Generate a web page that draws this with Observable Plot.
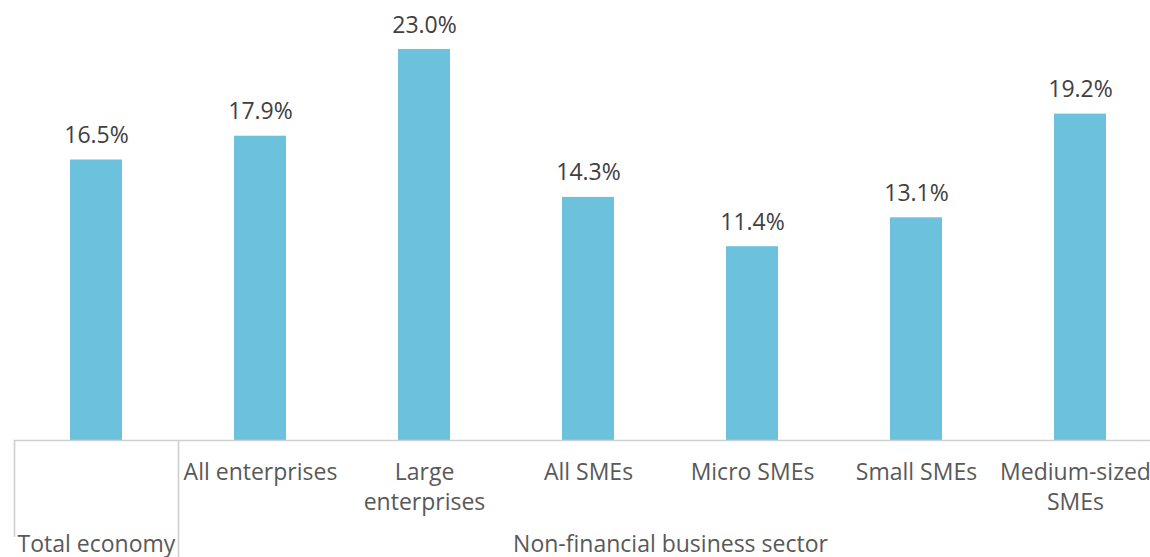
<!DOCTYPE html>
<html>
<head>
<meta charset="utf-8">
<script src="https://cdn.jsdelivr.net/npm/d3@7"></script>
<script src="https://cdn.jsdelivr.net/npm/@observablehq/plot@0.6"></script>
<style>
  html, body { margin: 0; padding: 0; background: #fff; overflow: hidden; }
  #chart svg { display: block; }
</style>
</head>
<body>
<div id="chart"></div>
<script>
const categories = ["Total economy", "All enterprises", "Large enterprises", "All SMEs", "Micro SMEs", "Small SMEs", "Medium-sized SMEs"];
const values = [16.5, 17.9, 23.0, 14.3, 11.4, 13.1, 19.2];
const tickLabels = ["", "All enterprises", "Large\nenterprises", "All SMEs", "Micro SMEs", "Small SMEs", "Medium-sized\nSMEs"];
const groupLabels = ["Total economy", "Non-financial business sector"];

const data = categories.map((c, i) => ({category: c, value: values[i]}));
const labelOf = new Map(categories.map((c, i) => [c, tickLabels[i]]));
const lastCategory = categories[categories.length - 1];

const lineColor = "#cfcfcf";
const textColor = "#595959";
const axisText = {tickSize: 0, tickPadding: 18, tickFormat: d => labelOf.get(d), fontSize: 23, lineHeight: 1.3, fill: textColor, label: null};

const chart = Plot.plot({
  width: 1150,
  height: 557,
  marginTop: 15,
  marginBottom: 117,
  marginLeft: 14,
  marginRight: 0,
  style: {fontFamily: "'Open Sans', sans-serif", background: "#fff", overflow: "visible"},
  x: {domain: categories, range: [14, 1162], paddingInner: 0.683, paddingOuter: 0.3415, axis: null},
  y: {domain: [0, 25], axis: null},
  marks: [
    Plot.barY(data, {x: "category", y: "value", fill: "#6cc2dd"}),
    Plot.text(data, {x: "category", y: "value", text: d => d.value.toFixed(1) + "%", lineAnchor: "bottom", dy: -17, fontSize: 23, fill: "#404040"}),
    Plot.ruleY([0], {stroke: lineColor, strokeWidth: 1.6}),
    // cell borders of the category table below the bars
    Plot.ruleX([categories[0]], {x: d => d, y1: 0, y2: -5.7, dx: -82, stroke: lineColor, strokeWidth: 1.6}),
    Plot.ruleX([categories[1]], {x: d => d, y1: 0, y2: -7, dx: -82, stroke: lineColor, strokeWidth: 1.6}),
    Plot.axisX({...axisText, ticks: categories.filter(c => c !== lastCategory)}),
    Plot.axisX({...axisText, ticks: [lastCategory], dx: -5}),
    Plot.text([groupLabels[0]], {x: () => categories[0], frameAnchor: "bottom", lineAnchor: "bottom", dy: 111, dx: -79, text: d => d, textAnchor: "start", fontSize: 23, fill: textColor}),
    Plot.text([groupLabels[1]], {x: () => categories[3], frameAnchor: "bottom", lineAnchor: "bottom", dy: 111, dx: 82, text: d => d, textAnchor: "middle", fontSize: 23, fill: textColor})
  ]
});

document.getElementById("chart").append(chart);
</script>
</body>
</html>
